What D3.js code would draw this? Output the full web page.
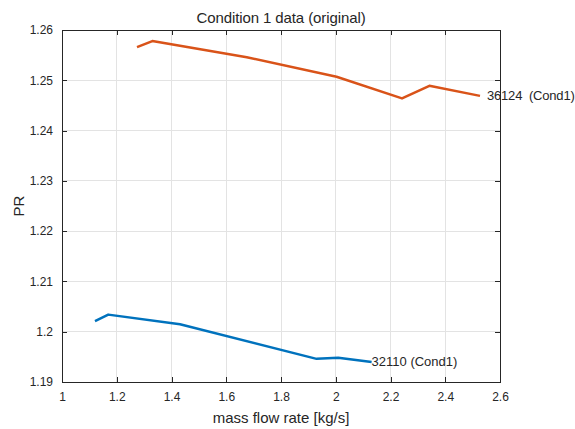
<!DOCTYPE html>
<html>
<head>
<meta charset="utf-8">
<script src="https://cdn.jsdelivr.net/npm/d3@7"></script>
<style>
  html, body { margin: 0; padding: 0; background: #fff; }
  svg { display: block; font-family: "Liberation Sans", Arial, sans-serif; }
</style>
</head>
<body>
<svg id="chart" width="575" height="429"></svg>
<script>
// ---- data ----
const titleText = "Condition 1 data (original)";
const xLabelText = "mass flow rate [kg/s]";
const yLabelText = "PR";

const orangeX = [1.274, 1.330, 1.675, 2.003, 2.242, 2.342, 2.527];
const orangeY = [1.2566, 1.2578, 1.2546, 1.2507, 1.2464, 1.2489, 1.2469];
const orangeLabel = "36124  (Cond1)";

const blueX = [1.1205, 1.169, 1.431, 1.930, 2.009, 2.131];
const blueY = [1.2021, 1.2034, 1.2015, 1.1946, 1.1948, 1.1940];
const blueLabel = "32110 (Cond1)";

const xTicks = [1, 1.2, 1.4, 1.6, 1.8, 2, 2.2, 2.4, 2.6];
const yTicks = [1.19, 1.2, 1.21, 1.22, 1.23, 1.24, 1.25, 1.26];

// ---- layout ----
const svg = d3.select("#chart");
const L = 62, R = 500, T = 30, B = 382;
const x = d3.scaleLinear().domain([1, 2.6]).range([L, R]);
const y = d3.scaleLinear().domain([1.19, 1.26]).range([B, T]);
const axisColor = "#262626";
const gridColor = "#e3e3e3";

// grid
const grid = svg.append("g");
grid.selectAll(".gx").data(xTicks).enter().append("line")
  .attr("x1", d => x(d)).attr("x2", d => x(d)).attr("y1", T).attr("y2", B)
  .attr("stroke", gridColor).attr("stroke-width", 1).attr("shape-rendering", "crispEdges");
grid.selectAll(".gy").data(yTicks).enter().append("line")
  .attr("y1", d => y(d)).attr("y2", d => y(d)).attr("x1", L).attr("x2", R)
  .attr("stroke", gridColor).attr("stroke-width", 1).attr("shape-rendering", "crispEdges");

// axes (ticks inward)
const fmt = d => String(+d.toFixed(2));
const xAxis = svg.append("g").attr("transform", `translate(0,${B})`)
  .call(d3.axisBottom(x).tickValues(xTicks).tickFormat(fmt).tickSizeInner(-5).tickSizeOuter(0).tickPadding(10));
const yAxis = svg.append("g").attr("transform", `translate(${L},0)`)
  .call(d3.axisLeft(y).tickValues(yTicks).tickFormat(fmt).tickSizeInner(-5).tickSizeOuter(0).tickPadding(9));
const xTop = svg.append("g").attr("transform", `translate(0,${T})`)
  .call(d3.axisTop(x).tickValues(xTicks).tickFormat("").tickSizeInner(-5).tickSizeOuter(0));
const yRight = svg.append("g").attr("transform", `translate(${R},0)`)
  .call(d3.axisRight(y).tickValues(yTicks).tickFormat("").tickSizeInner(-5).tickSizeOuter(0));
[xAxis, yAxis, xTop, yRight].forEach(g => {
  g.select(".domain").remove();
  g.selectAll("line").attr("stroke", axisColor).attr("shape-rendering", "crispEdges");
  g.selectAll("text").attr("fill", axisColor).attr("font-size", 12)
    .attr("font-family", "'Liberation Sans', Arial, sans-serif");
});

// box
svg.append("rect").attr("x", L).attr("y", T).attr("width", R - L).attr("height", B - T)
  .attr("fill", "none").attr("stroke", axisColor).attr("stroke-width", 1).attr("shape-rendering", "crispEdges");

// lines
const line = d3.line().x(d => x(d[0])).y(d => y(d[1]));
const orangeData = orangeX.map((v, i) => [v, orangeY[i]]);
const blueData = blueX.map((v, i) => [v, blueY[i]]);
svg.append("path").datum(orangeData).attr("d", line)
  .attr("fill", "none").attr("stroke", "#D95319").attr("stroke-width", 2.5).attr("stroke-linejoin", "round");
svg.append("path").datum(blueData).attr("d", line)
  .attr("fill", "none").attr("stroke", "#0072BD").attr("stroke-width", 2.5).attr("stroke-linejoin", "round");

// end labels
const oEnd = orangeData[orangeData.length - 1];
svg.append("text").attr("x", x(oEnd[0]) + 7).attr("y", y(oEnd[1]) + 1)
  .attr("dominant-baseline", "middle").attr("font-size", 13).attr("fill", "#262626")
  .attr("letter-spacing", -0.2)
  .style("white-space", "pre").attr("xml:space", "preserve").text(orangeLabel);
const bEnd = blueData[blueData.length - 1];
svg.append("text").attr("x", x(bEnd[0])).attr("y", y(bEnd[1]) + 1)
  .attr("dominant-baseline", "middle").attr("font-size", 13).attr("fill", "#262626")
  .text(blueLabel);

// title and axis labels
svg.append("text").attr("x", (L + R) / 2).attr("y", 23).attr("text-anchor", "middle")
  .attr("font-size", 15).attr("fill", "#262626").attr("letter-spacing", -0.1).text(titleText);
svg.append("text").attr("x", (L + R) / 2).attr("y", 423).attr("text-anchor", "middle")
  .attr("font-size", 15).attr("fill", "#262626").text(xLabelText);
svg.append("text").attr("transform", `translate(24,${(T + B) / 2}) rotate(-90)`)
  .attr("text-anchor", "middle").attr("font-size", 15).attr("fill", "#262626").text(yLabelText);
</script>
</body>
</html>
